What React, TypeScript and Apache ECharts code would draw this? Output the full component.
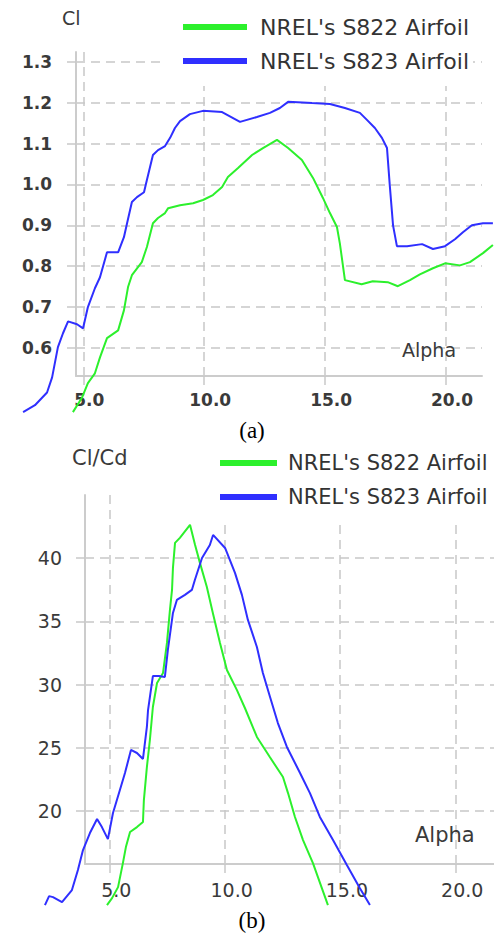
import { useEffect, useRef } from 'react';
import * as echarts from 'echarts';

// Series names
const S822 = "NREL's S822 Airfoil";
const S823 = "NREL's S823 Airfoil";

// Tick values
const alphaTicks = [5, 10, 15, 20];
const clTicks = [0.6, 0.7, 0.8, 0.9, 1.0, 1.1, 1.2, 1.3];
const clCdTicks = [20, 25, 30, 35, 40];

// (a) lift coefficient vs angle of attack
const s823ClAlpha = [2.51, 3.0, 3.5, 3.71, 3.95, 4.16, 4.37, 4.74, 4.99, 5.19, 5.48, 5.69, 5.98, 6.44, 6.68, 6.81, 7.01, 7.22, 7.51, 7.63, 7.88, 8.09, 8.38, 8.59, 8.79, 9.0, 9.41, 9.95, 10.74, 11.48, 12.18, 12.72, 13.13, 13.47, 14.46, 15.2, 15.82, 16.44, 16.73, 17.06, 17.35, 17.56, 17.68, 17.81, 17.97, 18.39, 19.01, 19.46, 19.96, 20.37, 20.7, 21.07, 21.53, 21.94];
const s823Cl = [0.443, 0.46, 0.491, 0.528, 0.602, 0.636, 0.665, 0.658, 0.648, 0.7, 0.746, 0.773, 0.834, 0.834, 0.871, 0.905, 0.957, 0.969, 0.981, 1.011, 1.072, 1.084, 1.094, 1.114, 1.138, 1.155, 1.172, 1.18, 1.177, 1.153, 1.165, 1.175, 1.187, 1.202, 1.199, 1.197, 1.187, 1.175, 1.158, 1.138, 1.114, 1.089, 0.994, 0.9, 0.849, 0.849, 0.854, 0.842, 0.849, 0.866, 0.883, 0.9, 0.905, 0.905];

const s822ClAlpha = [4.57, 4.95, 5.19, 5.48, 5.69, 5.98, 6.44, 6.68, 6.85, 7.01, 7.42, 7.63, 7.88, 8.09, 8.38, 8.51, 9.0, 9.54, 9.95, 10.36, 10.74, 10.98, 11.4, 11.98, 12.43, 13.01, 13.47, 14.04, 14.5, 14.91, 15.2, 15.49, 15.61, 15.82, 16.51, 16.97, 17.59, 18.01, 18.51, 18.92, 19.46, 19.96, 20.58, 20.99, 21.53, 21.94];
const s822Cl = [0.443, 0.479, 0.514, 0.538, 0.577, 0.624, 0.643, 0.692, 0.749, 0.778, 0.81, 0.847, 0.905, 0.918, 0.93, 0.942, 0.949, 0.954, 0.962, 0.974, 0.994, 1.018, 1.04, 1.072, 1.089, 1.109, 1.089, 1.06, 1.016, 0.967, 0.93, 0.896, 0.856, 0.766, 0.756, 0.763, 0.761, 0.751, 0.766, 0.78, 0.795, 0.807, 0.802, 0.81, 0.832, 0.852];

// (b) lift-to-drag ratio vs angle of attack
const s823ClCdAlpha = [2.21, 2.39, 2.56, 2.95, 3.38, 3.64, 3.86, 4.16, 4.47, 4.68, 4.94, 5.16, 5.46, 5.68, 5.94, 6.2, 6.46, 6.63, 6.68, 6.89, 7.15, 7.41, 7.54, 7.76, 7.93, 8.28, 8.58, 8.71, 9.02, 9.36, 9.5, 10.02, 10.45, 10.75, 11.01, 11.4, 11.66, 11.97, 12.31, 12.7, 13.27, 13.7, 14.13, 14.7, 15.3, 15.86, 16.3];
const s823ClCd = [12.56, 13.27, 13.19, 12.8, 13.75, 15.33, 16.91, 18.26, 19.37, 18.73, 17.78, 19.84, 21.66, 23.01, 24.83, 24.59, 24.12, 26.65, 27.99, 30.68, 30.68, 30.61, 32.74, 35.67, 36.7, 37.1, 37.49, 38.28, 40.02, 41.05, 41.84, 40.81, 38.84, 37.1, 35.12, 32.98, 30.92, 29.02, 26.96, 25.07, 23.01, 21.42, 19.53, 17.7, 15.73, 13.91, 12.56];

const s822ClCdAlpha = [4.9, 5.12, 5.38, 5.59, 5.72, 5.9, 6.2, 6.46, 6.5, 6.63, 6.76, 6.89, 7.07, 7.33, 7.5, 7.63, 7.72, 7.76, 7.85, 8.06, 8.5, 8.72, 8.93, 9.23, 9.49, 9.8, 10.1, 10.53, 10.88, 11.4, 11.96, 12.53, 12.75, 13.05, 13.4, 13.83, 14.17, 14.48];
const s822ClCd = [12.56, 13.11, 13.98, 15.88, 17.15, 18.34, 18.73, 19.13, 20.87, 23.48, 25.62, 28.23, 30.13, 30.92, 33.3, 35.91, 37.49, 39.23, 41.21, 41.61, 42.64, 41.05, 39.63, 37.73, 35.67, 33.3, 31.16, 29.58, 28.15, 25.86, 24.27, 22.69, 21.42, 19.53, 17.7, 15.88, 14.14, 12.56];

const GREEN = '#2cf02c';
const BLUE = '#2f2fff';
const GRID_COLOR = '#c8c8c8';
const AXIS_COLOR = '#cccccc';
const FONT = 'DejaVu Sans';

const zip = (xs: number[], ys: number[]) => xs.map((x, i) => [x, ys[i]]);

const dashed = { color: GRID_COLOR, type: [9, 6] as number[], width: 1.5 };

type Box = { left: number; top: number; width: number; height: number };

// Panel geometry: the axis frame, and the wider area the curves run through
const frameA: Box = { left: 76, top: 52, width: 406, height: 324 };
const plotA: Box = { left: 0, top: 52, width: 494, height: 360 };
const frameB: Box = { left: 85, top: 495, width: 409, height: 369 };
const plotB: Box = { left: 0, top: 495, width: 494, height: 410 };

// Extend an axis range from the frame box to the plot box, keeping the same scale
function widenX(min: number, max: number, frame: Box, plot: Box) {
  const k = (max - min) / frame.width;
  const lo = min + (plot.left - frame.left) * k;
  return [lo, lo + plot.width * k];
}
function widenY(min: number, max: number, frame: Box, plot: Box) {
  const k = (max - min) / frame.height;
  const hi = max - (plot.top - frame.top) * k;
  return [hi - plot.height * k, hi];
}

function xAxisFor(gridIndex: number, min: number, max: number, fontSize: number, margin: number, shift: number, bold: boolean) {
  return {
    type: 'value',
    gridIndex,
    min,
    max,
    axisLine: { show: true, onZero: false, lineStyle: { color: AXIS_COLOR, width: 2 } },
    axisTick: { show: true, length: 11, customValues: alphaTicks, lineStyle: dashed },
    axisLabel: {
      customValues: alphaTicks,
      formatter: (v: number) => v.toFixed(1),
      margin,
      padding: [0, 0, 0, shift],
      fontSize,
      fontFamily: FONT,
      fontWeight: bold ? 'bold' : 'normal',
      color: '#3a3a3a',
    },
    splitLine: { show: true, lineStyle: dashed },
  };
}

function yAxisFor(gridIndex: number, min: number, max: number, ticks: number[], digits: number, fontSize: number, margin: number, bold: boolean) {
  return {
    type: 'value',
    gridIndex,
    min,
    max,
    axisLine: { show: true, onZero: false, lineStyle: { color: AXIS_COLOR, width: 2 } },
    axisTick: { show: true, length: 13, customValues: ticks, lineStyle: dashed },
    axisLabel: {
      customValues: ticks,
      formatter: (v: number) => v.toFixed(digits),
      margin,
      fontSize,
      fontFamily: FONT,
      fontWeight: bold ? 'bold' : 'normal',
      color: '#3a3a3a',
    },
    splitLine: { show: true, lineStyle: dashed },
  };
}

const hiddenAxis = (gridIndex: number, range: number[]) => ({
  type: 'value',
  gridIndex,
  min: range[0],
  max: range[1],
  show: false,
  splitLine: { show: false },
});

function lineSeries(name: string, color: string, idx: number, data: number[][]) {
  return {
    name,
    type: 'line',
    xAxisIndex: idx,
    yAxisIndex: idx,
    data,
    showSymbol: false,
    symbol: 'none',
    clip: true,
    color,
    lineStyle: { color, width: 2 },
  };
}

function legendFor(left: number, top: number, itemWidth: number, fontSize: number, lineHeight: number, textPad: number) {
  return {
    orient: 'vertical',
    left,
    top,
    data: [S822, S823],
    icon: 'rect',
    itemWidth,
    itemHeight: 6,
    itemGap: 12,
    backgroundColor: '#ffffff',
    padding: [10, 4, 14, 18],
    textStyle: {
      fontFamily: FONT,
      fontSize,
      lineHeight,
      color: '#333333',
      padding: [0, 0, 0, textPad],
    },
  };
}

const label = (text: string, x: number, y: number, fontSize: number, family = FONT, align = 'left', fill = '#3a3a3a') => ({
  type: 'text',
  x,
  y,
  z: 10,
  style: { text, fontSize, fontFamily: family, fill, align, verticalAlign: 'middle' },
});

export default function App() {
  const ref = useRef<HTMLDivElement>(null);

  useEffect(() => {
    if (!ref.current) return;
    const chart = echarts.init(ref.current, undefined, { renderer: 'svg' });

    const axA = { x: [4.698, 21.489], y: [0.5314, 1.324] };
    const axB = { x: [3.947, 21.68], y: [15.81, 45] };

    chart.setOption({
      animation: false,
      backgroundColor: '#ffffff',
      grid: [frameA, frameB, plotA, plotB],
      xAxis: [
        xAxisFor(0, axA.x[0], axA.x[1], 17, 15, 12, true),
        xAxisFor(1, axB.x[0], axB.x[1], 19, 16, 14, false),
        hiddenAxis(2, widenX(axA.x[0], axA.x[1], frameA, plotA)),
        hiddenAxis(3, widenX(axB.x[0], axB.x[1], frameB, plotB)),
      ],
      yAxis: [
        yAxisFor(0, axA.y[0], axA.y[1], clTicks, 1, 17, 24, true),
        yAxisFor(1, axB.y[0], axB.y[1], clCdTicks, 0, 19, 23, false),
        hiddenAxis(2, widenY(axA.y[0], axA.y[1], frameA, plotA)),
        hiddenAxis(3, widenY(axB.y[0], axB.y[1], frameB, plotB)),
      ],
      legend: [legendFor(165, 6, 64, 22, 20, 8), legendFor(202, 442, 57, 21, 22, 6)],
      series: [
        lineSeries(S822, GREEN, 2, zip(s822ClAlpha, s822Cl)),
        lineSeries(S823, BLUE, 2, zip(s823ClAlpha, s823Cl)),
        lineSeries(S822, GREEN, 3, zip(s822ClCdAlpha, s822ClCd)),
        lineSeries(S823, BLUE, 3, zip(s823ClCdAlpha, s823ClCd)),
      ],
      graphic: [
        label('Cl', 62, 18, 19),
        label('Alpha', 402, 350, 19),
        label('(a)', 252, 430, 23, 'Liberation Serif', 'center', '#000000'),
        label('Cl/Cd', 72, 458, 21),
        label('Alpha', 415, 835, 21),
        label('(b)', 252, 920, 23, 'Liberation Serif', 'center', '#000000'),
      ],
    });
    return () => chart.dispose();
  }, []);

  return (
    <div
      ref={ref}
      style={{ position: 'absolute', left: 0, top: 0, width: 494, height: 935, background: '#ffffff' }}
    />
  );
}
